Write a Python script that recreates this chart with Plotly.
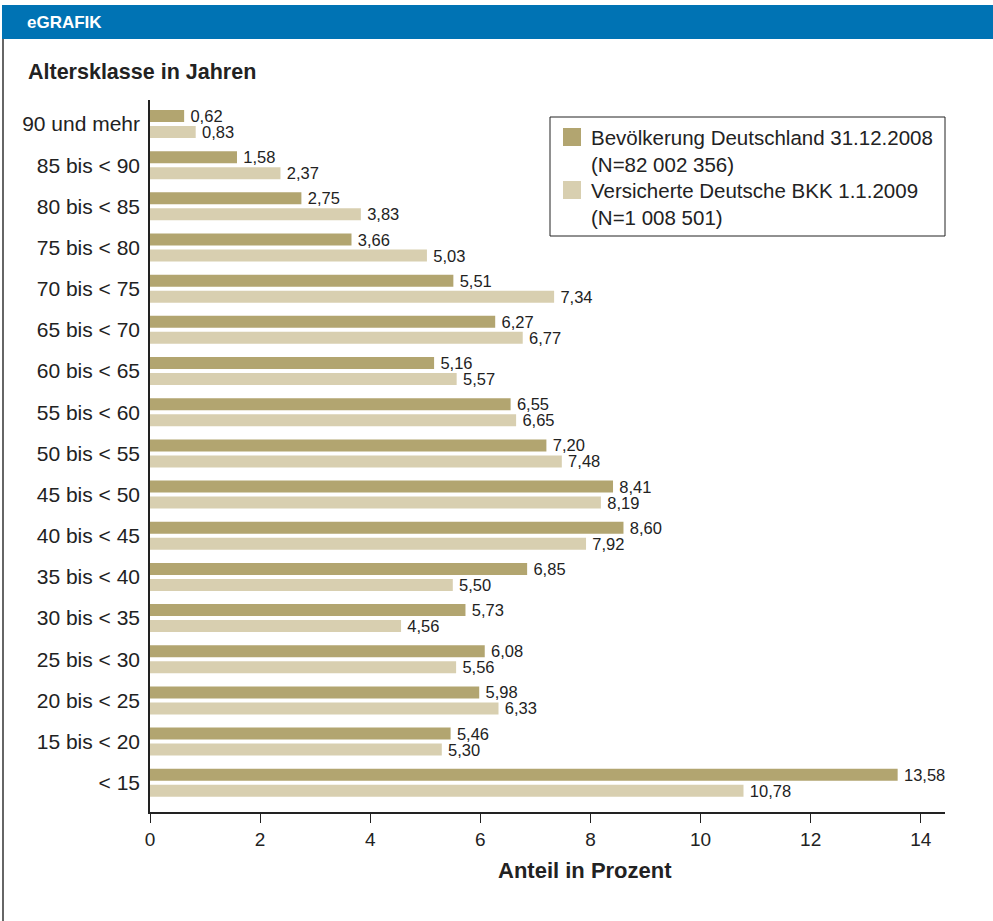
import plotly.graph_objects as go

categories = ["90 und mehr", "85 bis < 90", "80 bis < 85", "75 bis < 80", "70 bis < 75",
              "65 bis < 70", "60 bis < 65", "55 bis < 60", "50 bis < 55", "45 bis < 50",
              "40 bis < 45", "35 bis < 40", "30 bis < 35", "25 bis < 30", "20 bis < 25",
              "15 bis < 20", "< 15"]
bevoelkerung = [0.62, 1.58, 2.75, 3.66, 5.51, 6.27, 5.16, 6.55, 7.20, 8.41, 8.60, 6.85,
                5.73, 6.08, 5.98, 5.46, 13.58]
versicherte = [0.83, 2.37, 3.83, 5.03, 7.34, 6.77, 5.57, 6.65, 7.48, 8.19, 7.92, 5.50,
               4.56, 5.56, 6.33, 5.30, 10.78]
x_ticks = [0, 2, 4, 6, 8, 10, 12, 14]
name_bev = "Bevölkerung Deutschland 31.12.2008"
name_bev_n = "(N=82 002 356)"
name_bkk = "Versicherte Deutsche BKK 1.1.2009"
name_bkk_n = "(N=1 008 501)"

DARK = "#b2a570"
LIGHT = "#d8cfb0"
TXT = "#222222"
FONT = "Liberation Sans, Arial, sans-serif"

W, H = 993, 921
L, R, T, B = 150, 48, 100, 109
PW, PH = W - L - R, H - T - B


def px(x):
    return (x - L) / PW


def py(y):
    return (H - B - y) / PH


def fmt(v):
    return "\u2009" + f"{v:.2f}".replace(".", ",")


fig = go.Figure()
fig.add_trace(go.Bar(
    y=categories, x=bevoelkerung, orientation="h", name=name_bev,
    marker=dict(color=DARK, line=dict(width=0)),
    text=[fmt(v) for v in bevoelkerung], textposition="outside",
    textfont=dict(size=16.5, color=TXT, family=FONT), cliponaxis=False,
    constraintext="none", showlegend=False))
fig.add_trace(go.Bar(
    y=categories, x=versicherte, orientation="h", name=name_bkk,
    marker=dict(color=LIGHT, line=dict(width=0)),
    text=[fmt(v) for v in versicherte], textposition="outside",
    textfont=dict(size=16.5, color=TXT, family=FONT), cliponaxis=False,
    constraintext="none", showlegend=False))

shapes = [
    # header bar
    dict(type="rect", xref="paper", yref="paper", x0=px(2), x1=px(993), y0=py(5), y1=py(39),
         fillcolor="#0073b4", line=dict(width=0), layer="below"),
    # left frame line
    dict(type="line", xref="paper", yref="paper", x0=px(3), x1=px(3), y0=py(39), y1=py(921),
         line=dict(color="#333333", width=1.5)),
    # legend box
    dict(type="rect", xref="paper", yref="paper", x0=px(550), x1=px(945), y0=py(117), y1=py(236),
         fillcolor="white", line=dict(color="#222222", width=1)),
    dict(type="rect", xref="paper", yref="paper", x0=px(563), x1=px(581), y0=py(128), y1=py(146),
         fillcolor=DARK, line=dict(width=0)),
    dict(type="rect", xref="paper", yref="paper", x0=px(563), x1=px(581), y0=py(181), y1=py(199),
         fillcolor=LIGHT, line=dict(width=0)),
]

annotations = [
    dict(text="<b>eGRAFIK</b>", x=px(25), y=py(22), xref="paper", yref="paper",
         xanchor="left", yanchor="middle", showarrow=False,
         font=dict(size=17, color="white", family=FONT)),
    dict(text="<b>Altersklasse in Jahren</b>", x=px(26), y=py(72), xref="paper", yref="paper",
         xanchor="left", yanchor="middle", showarrow=False,
         font=dict(size=21.5, color=TXT, family=FONT)),
    dict(text="<b>Anteil in Prozent</b>", x=px(585), y=py(870), xref="paper", yref="paper",
         xanchor="center", yanchor="middle", showarrow=False,
         font=dict(size=22, color=TXT, family=FONT)),
]
for txt, yy in [(name_bev, 137), (name_bev_n, 164), (name_bkk, 190), (name_bkk_n, 217)]:
    annotations.append(dict(text=txt, x=px(589), y=py(yy), xref="paper", yref="paper",
                            xanchor="left", yanchor="middle", showarrow=False,
                            font=dict(size=20.5, color=TXT, family=FONT)))

fig.update_layout(
    width=W, height=H,
    margin=dict(l=L, r=R, t=T, b=B, pad=0),
    paper_bgcolor="white", plot_bgcolor="white",
    barmode="group", bargap=0.223, bargroupgap=0.25,
    font=dict(family=FONT, color=TXT),
    showlegend=False,
    shapes=shapes, annotations=annotations,
    xaxis=dict(range=[0, 14.44], tickvals=x_ticks, ticktext=[str(t) for t in x_ticks],
               showgrid=False, zeroline=False, showline=True, linecolor="#222222", linewidth=1.5,
               ticks="outside", ticklen=9, tickwidth=1.2, tickcolor="#222222",
               tickfont=dict(size=19, color=TXT, family=FONT)),
    yaxis=dict(type="category", categoryorder="array", categoryarray=categories,
               range=[16.71, -0.583], showgrid=False, zeroline=False,
               showline=True, linecolor="#222222", linewidth=1.5, ticks="",
               ticklabelstandoff=4,
               tickfont=dict(size=21, color=TXT, family=FONT)),
)

fig.write_html("out.html")
